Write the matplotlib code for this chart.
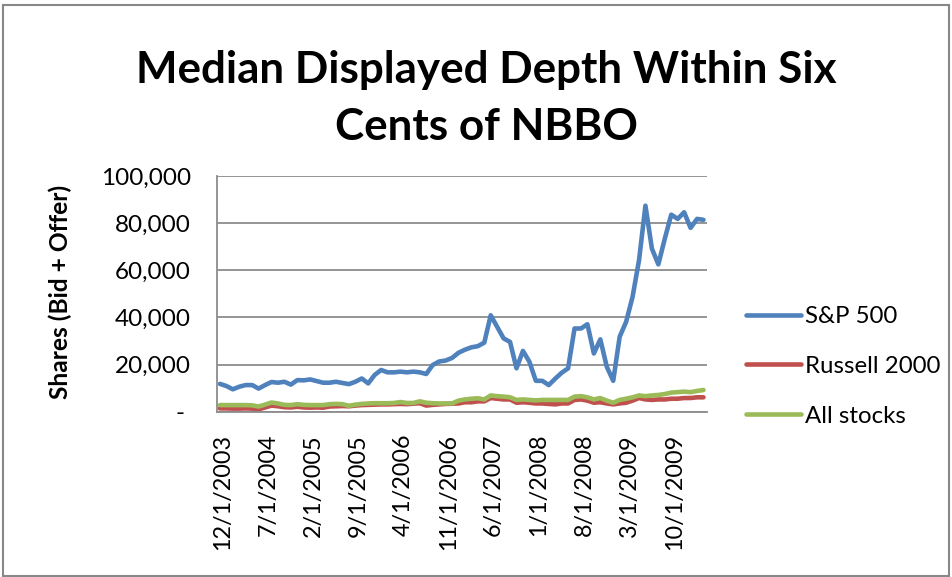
import matplotlib
matplotlib.use("Agg")
import matplotlib.pyplot as plt
from matplotlib.patches import Rectangle
from matplotlib.transforms import ScaledTranslation

# ---------------- data ----------------
months = 76  # Dec 2003 .. Mar 2010 (monthly)
tick_idx = [0, 7, 14, 21, 28, 35, 42, 49, 56, 63, 70]
tick_labels = ["12/1/2003", "7/1/2004", "2/1/2005", "9/1/2005", "4/1/2006",
               "11/1/2006", "6/1/2007", "1/1/2008", "8/1/2008", "3/1/2009",
               "10/1/2009"]

sp500 = [11800, 10900, 9500, 10600, 11300, 11300, 9800, 11300, 12600, 12300,
         12700, 11500, 13400, 13300, 13700, 13000, 12300, 12300, 12700, 12200,
         11700, 12700, 14100, 12000, 15600, 17700, 16700, 16700, 17000, 16700,
         17000, 16700, 16000, 19800, 21300, 21700, 22800, 25000, 26300, 27300,
         27800, 29300, 40900, 36000, 31100, 29600, 18400, 25800, 21200, 13100,
         13100, 11300, 14000, 16500, 18400, 35300, 35300, 37100, 24700, 30700,
         19100, 13100, 31800, 38100, 48700, 64200, 87400, 69200, 62500, 73400,
         83600, 81800, 84600, 78000, 81800, 81400]

russell2000 = [1400, 1400, 1300, 1300, 1400, 1300, 1000, 1800, 2600, 2300,
               1900, 1800, 2100, 1800, 1700, 1800, 1700, 2200, 2300, 2400,
               2300, 2600, 2800, 2900, 3000, 3100, 3100, 3200, 3300, 3200,
               3400, 3600, 2600, 2900, 3100, 3300, 3400, 3500, 4000, 4000,
               4400, 4400, 5800, 5500, 5200, 5200, 3800, 4000, 3800, 3500,
               3500, 3300, 3100, 3500, 3500, 5000, 5200, 4700, 3800, 4000,
               3500, 3100, 3500, 3800, 4700, 5800, 5200, 5000, 5200, 5200,
               5500, 5500, 5800, 5800, 6100, 6100]

all_stocks = [2800, 2800, 2800, 2800, 2800, 2700, 2200, 3000, 3900, 3500,
              2900, 2800, 3200, 2900, 2800, 2800, 2800, 3200, 3300, 3200,
              2500, 3000, 3300, 3500, 3600, 3600, 3600, 3700, 4100, 3700,
              3700, 4400, 3800, 3600, 3500, 3500, 3500, 4700, 5200, 5500,
              5700, 5200, 6900, 6600, 6400, 6100, 5000, 5200, 5000, 4800,
              5000, 5000, 5000, 5000, 5000, 6400, 6600, 6100, 5200, 5800,
              4700, 3800, 5000, 5500, 6100, 6900, 6600, 6900, 7100, 7500,
              8100, 8300, 8500, 8300, 8800, 9200]

series_names = ["S&P 500", "Russell 2000", "All stocks"]
series_colors = ["#4F81BD", "#C0504D", "#9BBB59"]

y_ticks = [0, 20000, 40000, 60000, 80000, 100000]
y_tick_labels = ["- ", "20,000", "40,000", "60,000", "80,000", "100,000"]

title_lines = ["Median Displayed Depth Within Six", "Cents of NBBO"]
y_label = "Shares (Bid + Offer)"

# ---------------- layout ----------------
W, H = 953, 577
DPI = 100
FONT = "Lato"
plt.rcParams["font.family"] = [FONT, "DejaVu Sans"]

fig = plt.figure(figsize=(W / DPI, H / DPI), dpi=DPI)
renderer = fig.canvas.get_renderer()


def fit_size(text, target_px, weight="normal"):
    t = fig.text(0, 0, text, fontsize=20, fontweight=weight)
    bb = t.get_window_extent(renderer)
    t.remove()
    return 20 * target_px / bb.width


L, R, T, B = 216.7, 706.7, 176.0, 411.7
ax = fig.add_axes([L / W, 1 - B / H, (R - L) / W, (B - T) / H])

x = list(range(months))
for vals, name, col in zip([sp500, russell2000, all_stocks], series_names, series_colors):
    ax.plot(x, vals, color=col, lw=3.3, label=name, solid_capstyle="round",
            solid_joinstyle="round")

ax.set_xlim(-0.5, months - 0.5)
ax.set_ylim(0, 100000)

grid_col = "#8C8C8C"
ax.set_yticks(y_ticks)
tick_fs = fit_size("100,000", 90)
ax.set_yticklabels(y_tick_labels, fontsize=tick_fs)
ax.yaxis.grid(True, color=grid_col, lw=1.3)
ax.set_axisbelow(True)
ax.tick_params(axis="y", length=0, pad=(L - 191) * 72 / DPI)

ax.set_xticks(tick_idx)
xfs = fit_size("12/1/2003", 116)
ax.set_xticklabels(tick_labels, rotation=90, fontsize=xfs)
ax.tick_params(axis="x", length=0, pad=(434 - B) * 72 / DPI)
shift = ScaledTranslation(3 / DPI, 0, fig.dpi_scale_trans)
for lab in ax.get_xticklabels():
    lab.set_transform(lab.get_transform() + shift)

for s in ["top", "right"]:
    ax.spines[s].set_visible(False)
for s in ["left", "bottom"]:
    ax.spines[s].set_color(grid_col)
    ax.spines[s].set_linewidth(1.3)

# title
tfs = fit_size(title_lines[0], 703, weight="bold")
fig.text(486.5 / W, 1 - 83 / H, title_lines[0], fontsize=tfs, fontweight="bold",
         ha="center", va="baseline")
fig.text(486.5 / W, 1 - 140 / H, title_lines[1], fontsize=tfs, fontweight="bold",
         ha="center", va="baseline")

# y label
yfs = fit_size(y_label, 214, weight="bold")
fig.text(60 / W, 1 - 292 / H, y_label, fontsize=yfs, fontweight="bold",
         rotation=90, ha="center", va="center")

# legend
lfs = fit_size("Russell 2000", 135)
lfs_px = lfs * DPI / 72
leg = ax.legend(loc="upper left", bbox_to_anchor=(746 / W, 1 - 306 / H),
                bbox_transform=fig.transFigure, frameon=False, fontsize=lfs,
                handlelength=55 / lfs_px, handletextpad=4 / lfs_px,
                labelspacing=1.2, borderpad=0, borderaxespad=0)

# chart border
fig.patches.append(Rectangle((3.5 / W, 1 - 576 / H), (949.5 - 3.5) / W, (576 - 4.5) / H,
                             transform=fig.transFigure, fill=False,
                             edgecolor="#888888", lw=1.5))

fig.savefig("out.png", dpi=DPI)
